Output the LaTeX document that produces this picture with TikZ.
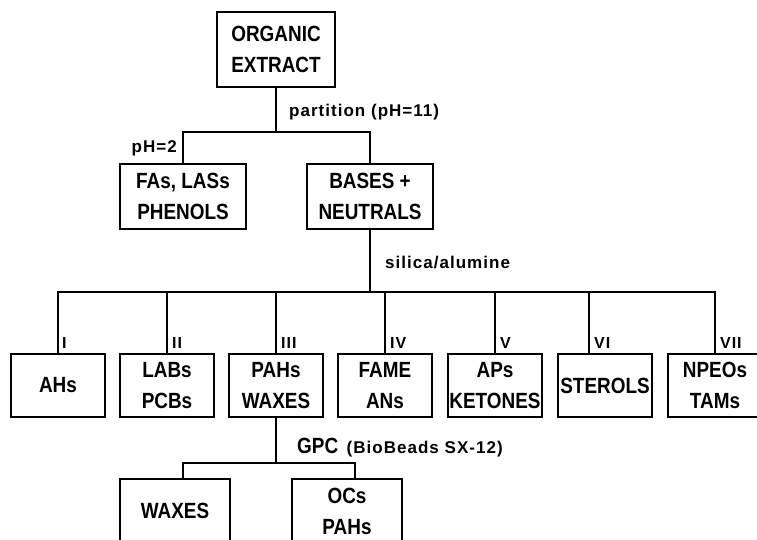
\documentclass[tikz,border=0pt]{standalone}
\usepackage{fontspec}
\setmainfont{Liberation Sans}
\newfontfamily\boxfont{Liberation Sans}[FakeStretch=0.86]
\newfontfamily\tagfont{Liberation Sans}[LetterSpace=6]

\begin{document}
\begin{tikzpicture}[
  x=1pt, y=-1pt,
  box/.style={draw, line width=1.5pt, inner sep=0pt, align=center,
              font=\boxfont\bfseries\fontsize{22}{31}\selectfont},
  srcbox/.style={box, minimum width=118, minimum height=75},
  partbox/.style={box, minimum width=126, minimum height=65},
  fracbox/.style={box, minimum width=94, minimum height=63},
  gpcbox/.style={box, minimum width=110, minimum height=64},
  tag/.style={inner sep=0pt, font=\tagfont\bfseries\fontsize{17}{17}\selectfont},
  numtag/.style={inner sep=0pt, anchor=west, font=\tagfont\bfseries\fontsize{16}{16}\selectfont},
  link/.style={line width=1.5pt}
]
  \useasboundingbox (0,0) rectangle (757,540);
  \clip (0,0) rectangle (757,540);

  \node[srcbox]  (org)  at (276,49.5)   {ORGANIC\\EXTRACT};
  \node[partbox] (fas)  at (183,196.5)  {FAs, LASs\\PHENOLS};
  \node[partbox] (bas)  at (370,196.5)  {BASES +\\NEUTRALS};

  \node[fracbox] (ahs)  at (58,385.5)   {AHs};
  \node[fracbox] (lab)  at (167,385.5)  {LABs\\PCBs};
  \node[fracbox] (pah)  at (276,385.5)  {PAHs\\WAXES};
  \node[fracbox] (fame) at (385,385.5)  {FAME\\ANs};
  \node[fracbox] (aps)  at (495,385.5)  {APs\\KETONES};
  \node[fracbox] (ster) at (605,385.5)  {STEROLS};
  \node[fracbox] (npeo) at (715,385.5)  {NPEOs\\TAMs};

  \node[gpcbox]  (wax)  at (175,511)    {WAXES};
  \node[gpcbox]  (ocs)  at (347,511)    {OCs\\PAHs};

  \coordinate (split1) at (276,132);
  \coordinate (split2) at (370,292);
  \coordinate (split3) at (276,463);

  \draw[link] (org.south) -- (split1);
  \draw[link] (fas.north) |- (split1) -| (bas.north);
  \draw[link] (bas.south) -- (split2);
  \draw[link] (ahs.north) |- (split2) -| (npeo.north);
  \draw[link] (lab.north) -- (lab.north |- split2);
  \draw[link] (pah.north) -- (pah.north |- split2);
  \draw[link] (fame.north) -- (fame.north |- split2);
  \draw[link] (aps.north) -- (aps.north |- split2);
  \draw[link] ([xshift=-16]ster.north) -- ([xshift=-16]ster.north |- split2);
  \draw[link] (pah.south) -- (split3);
  \draw[link] ([xshift=8]wax.north) |- (split3) -| ([xshift=8]ocs.north);

  \node[tag, anchor=west] (part) at (289,112) {partition (pH=11)};
  \node[tag, anchor=east] (ph2)  at (177,148) {pH=2};
  \node[tag, anchor=west] (sil)  at (385,263) {silica/alumine};
  \node[tag, anchor=west] (gpc)  at (297,448)
    {{\boxfont\bfseries\fontsize{22}{22}\selectfont GPC}\enspace(BioBeads SX-12)};

  \node[numtag] (n1) at (62,343)  {I};
  \node[numtag] (n2) at (172,343) {II};
  \node[numtag] (n3) at (281,343) {III};
  \node[numtag] (n4) at (390,343) {IV};
  \node[numtag] (n5) at (500,343) {V};
  \node[numtag] (n6) at (594,343) {VI};
  \node[numtag] (n7) at (720,343) {VII};
\end{tikzpicture}
\end{document}
